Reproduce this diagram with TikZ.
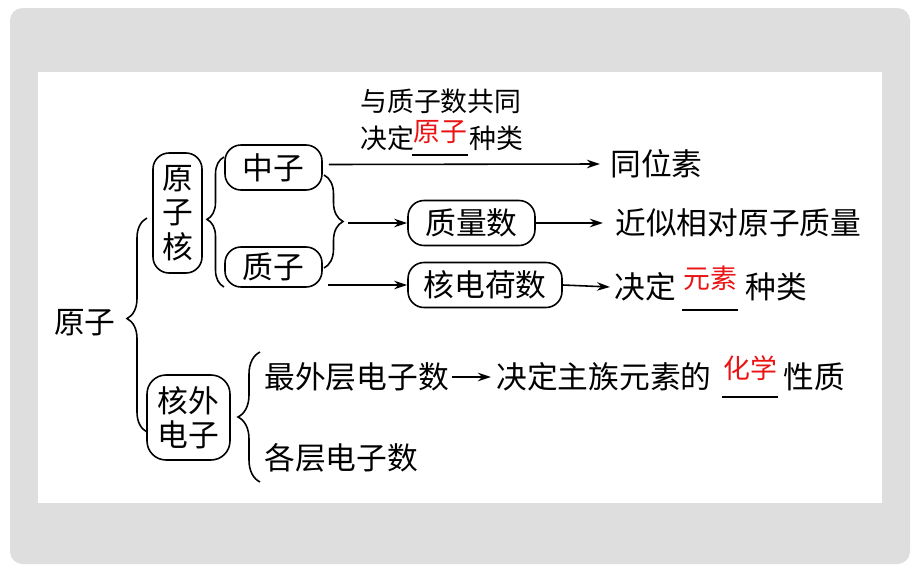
\documentclass[tikz,border=0pt]{standalone}
\usepackage{fontspec}
\setmainfont{Noto Sans CJK SC}
\usetikzlibrary{arrows.meta,decorations.pathreplacing}

\definecolor{pagegray}{RGB}{222,222,222}
\definecolor{ansred}{RGB}{235,20,20}
\newcommand\mainsz{\fontsize{17.5pt}{19.5pt}\selectfont}
\newcommand\notesz{\fontsize{15.3pt}{18pt}\selectfont}

% red answer written over a blank line
\newcommand\blank[5]{
    \node[anstxt] (#1) at (#2,#3) {#5};
    \draw[line width=1pt] (#2-28,#4) -- (#2+28,#4);
}

\tikzset{
    box/.style={draw, line width=0.9pt, rounded corners=0.32cm, inner sep=0pt, font=\mainsz, align=center},
    txt/.style={inner sep=0pt, font=\mainsz},
    note/.style={inner sep=0pt, font=\notesz},
    anstxt/.style={inner sep=0pt, font=\notesz, text=ansred},
    arr/.style={-{Stealth[length=0.26cm, width=0.17cm]}, line width=0.9pt},
    brc/.style n args={2}{decorate, decoration={brace, amplitude=#1, aspect=#2}, line width=0.9pt},
}

\begin{document}
\begin{tikzpicture}[x=0.02cm, y=-0.02cm]
    \useasboundingbox (0,0) rectangle (920,575);
    \fill[white] (0,0) rectangle (920,575);
    \fill[pagegray, rounded corners=0.25cm] (10,8) rectangle (910,564);
    \fill[white] (38,72) rectangle (882,503);

    % atom and its two parts
    \node[txt] (yz) at (85,323) {原子};
    \node[box, minimum width=0.98cm, minimum height=2.4cm] (yzh) at (177.5,213) {原\\子\\核};
    \node[box, minimum width=1.66cm, minimum height=1.7cm, rounded corners=0.38cm] (hwdz) at (188.5,417.5) {核外\\电子};

    % nucleus
    \node[box, minimum width=1.94cm, minimum height=0.9cm] (zz) at (273.5,167.5) {中子};
    \node[box, minimum width=1.94cm, minimum height=0.8cm] (zzz) at (273.5,267) {质子};
    \node[box, minimum width=2.54cm, minimum height=0.9cm] (zls) at (471.5,223) {质量数};
    \node[box, minimum width=3.08cm, minimum height=0.9cm] (hdh) at (485,285) {核电荷数};

    % right column
    \node[txt, anchor=west] (tws) at (610,164) {同位素};
    \node[txt, anchor=west] (jsxd) at (615,223) {近似相对原子质量};
    \node[txt, anchor=west] (jdA) at (614,287) {决定};
    \blank{ys}{710}{278}{310}{元素}
    \node[txt, anchor=west] (zlA) at (745,287) {种类};

    % note over the isotope line
    \node[note, anchor=west] (ntA) at (360,101) {与质子数共同};
    \node[note, anchor=west] (ntB) at (360,138) {决定};
    \blank{yzred}{440}{132}{155}{原子}
    \node[note, anchor=west] (ntC) at (469,138) {种类};

    % electrons
    \node[txt, anchor=west] (zwc) at (264,377) {最外层电子数};
    \node[txt, anchor=west] (jdz) at (496,377) {决定主族元素的};
    \blank{hx}{750}{368}{397}{化学}
    \node[txt, anchor=west] (xz) at (783,377) {性质};
    \node[txt, anchor=west] (gc) at (264,458) {各层电子数};

    % braces
    \coordinate (bAs) at (147,432); \coordinate (bAe) at (147,218);
    \draw[brc={0.4cm}{0.53}] (bAs) -- (bAe);
    \coordinate (bBs) at (224,287); \coordinate (bBe) at (224,157);
    \draw[brc={0.34cm}{0.52}] (bBs) -- (bBe);
    \coordinate (bCs) at (324,175); \coordinate (bCe) at (324,268);
    \draw[brc={0.38cm}{0.5}] (bCs) -- (bCe);
    \coordinate (bDs) at (260,482); \coordinate (bDe) at (260,352);
    \draw[brc={0.44cm}{0.5}] (bDs) -- (bDe);

    % neutron to isotope
    \draw[arr] ([shift={(6,-3)}]zz.east) -- ([shift={(-10,0)}]tws.west);
    % brace to mass number
    \coordinate (bCtip) at (348,223);
    \draw[arr] (bCtip) -- (zls.west);
    \draw[arr] (zls.east) -- ([shift={(-12,0)}]jsxd.west);
    % proton to nuclear charge
    \draw[arr] ([shift={(5,0)}]zzz.east |- hdh.west) -- (hdh.west);
    \draw[arr] (hdh.east) -- ([shift={(-4,0)}]jdA.west);
    % outer electrons
    \draw[arr] ([shift={(3,0)}]zwc.east) -- ([shift={(-5,0)}]jdz.west);
\end{tikzpicture}
\end{document}
